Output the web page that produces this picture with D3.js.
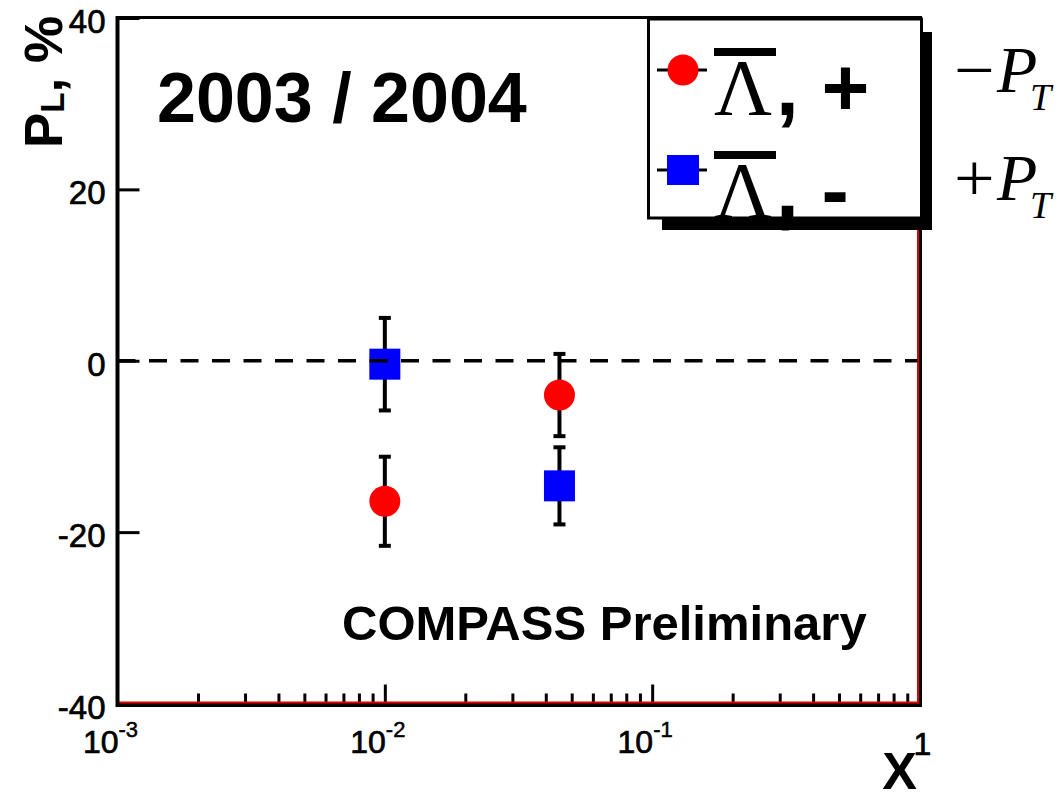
<!DOCTYPE html>
<html>
<head>
<meta charset="utf-8">
<script src="https://cdn.jsdelivr.net/npm/d3@7"></script>
<style>
  html, body { margin: 0; padding: 0; background: #fff; }
  svg { display: block; }
</style>
</head>
<body>
<svg id="chart" width="1059" height="794" font-family="'Liberation Sans', Arial, sans-serif"></svg>
<script>
// ---- data ----
const xValues = [0.01, 0.045];
const seriesNames = ["Λ, +", "Λ, -"];
const redValues = [-16.4, -4.0];
const redErrors = [5.2, 4.8];
const blueValues = [-0.4, -14.6];
const blueErrors = [5.4, 4.5];
const yTicks = [-40, -20, 0, 20, 40];
const xMajorTicks = [0.001, 0.01, 0.1, 1];
const xTickExponents = ["-3", "-2", "-1", ""];
const ptLabels = ["\u2212", "+"];

const SANS = "'Liberation Sans', Arial, sans-serif";
const SERIF = "'Liberation Serif', 'Times New Roman', serif";

const svg = d3.select("#chart");
const L = 117.5, R = 919.5, T = 18, B = 703.5;

const x = d3.scaleLog().domain([1e-3, 1]).range([L, R]);
const y = d3.scaleLinear().domain([-40, 40]).range([B, T]);

// ---- x axis minor & major ticks (pointing up) ----
const allTicks = x.ticks();
const minorTicks = allTicks.filter(v => !xMajorTicks.some(m => Math.abs(m - v) / m < 1e-6));
const gMinor = svg.append("g").attr("transform", `translate(0,${B})`)
  .call(d3.axisBottom(x).tickValues(minorTicks).tickSize(-10).tickFormat(""));
const gMajor = svg.append("g").attr("transform", `translate(0,${B})`)
  .call(d3.axisBottom(x).tickValues(xMajorTicks.slice(1, 3)).tickSize(-19).tickFormat(""));
[gMinor, gMajor].forEach(g => {
  g.select(".domain").remove();
  g.selectAll(".tick line").attr("stroke", "#000").attr("stroke-width", 3);
});

// x tick labels
const lblStroke = 0.7;
xMajorTicks.forEach((v, i) => {
  const px = x(v);
  if (xTickExponents[i] !== "") {
    svg.append("text").attr("x", px + 1).attr("y", 753).attr("text-anchor", "end")
      .attr("font-size", 32).attr("fill", "#000").attr("stroke", "#000").attr("stroke-width", lblStroke).text("10");
    svg.append("text").attr("x", px + 1).attr("y", 737).attr("text-anchor", "start")
      .attr("font-size", 22).attr("fill", "#000").attr("stroke", "#000").attr("stroke-width", 0.5).text(xTickExponents[i]);
  } else {
    svg.append("text").attr("x", px + 3).attr("y", 755).attr("text-anchor", "middle")
      .attr("font-size", 32).attr("fill", "#000").attr("stroke", "#000").attr("stroke-width", lblStroke).text("1");
  }
});

// ---- y axis ----
const gy = svg.append("g").attr("transform", `translate(${L},0)`)
  .call(d3.axisLeft(y).tickValues(yTicks).tickSize(-22).tickPadding(12).tickFormat(d => String(d)));
gy.select(".domain").remove();
gy.selectAll(".tick line").attr("stroke", "#000").attr("stroke-width", 3);
gy.selectAll(".tick text").attr("font-size", 33).attr("fill", "#000")
  .attr("stroke", "#000").attr("stroke-width", lblStroke)
  .attr("font-family", SANS).attr("dy", "0.44em");

// ---- frame ----
svg.append("line").attr("x1", L).attr("x2", R).attr("y1", T - 0.5).attr("y2", T - 0.5)
  .attr("stroke", "#000").attr("stroke-width", 3);
svg.append("line").attr("x1", L - 1.5).attr("x2", R + 2).attr("y1", B + 1.5).attr("y2", B + 1.5)
  .attr("stroke", "#000").attr("stroke-width", 4);
svg.append("line").attr("x1", L).attr("x2", R).attr("y1", B - 1).attr("y2", B - 1)
  .attr("stroke", "#e00000").attr("stroke-width", 2);
svg.append("line").attr("x1", L).attr("x2", L).attr("y1", T - 2).attr("y2", B + 3.5)
  .attr("stroke", "#000").attr("stroke-width", 4);
svg.append("line").attr("x1", R + 1).attr("x2", R + 1).attr("y1", T - 2).attr("y2", B + 3.5)
  .attr("stroke", "#000").attr("stroke-width", 3);
svg.append("line").attr("x1", R - 1.5).attr("x2", R - 1.5).attr("y1", T).attr("y2", B)
  .attr("stroke", "#e00000").attr("stroke-width", 2);

// ---- error bars ----
function errorBars(vals, errs) {
  const g = svg.append("g");
  vals.forEach((v, i) => {
    const px = x(xValues[i]);
    g.append("line").attr("x1", px).attr("x2", px).attr("y1", y(v + errs[i])).attr("y2", y(v - errs[i]))
      .attr("stroke", "#000").attr("stroke-width", 4);
    [v + errs[i], v - errs[i]].forEach(e => {
      g.append("line").attr("x1", px - 6).attr("x2", px + 6).attr("y1", y(e)).attr("y2", y(e))
        .attr("stroke", "#000").attr("stroke-width", 4);
    });
  });
}
errorBars(redValues, redErrors);
errorBars(blueValues, blueErrors);

// ---- markers ----
svg.append("g").selectAll("circle").data(redValues).join("circle")
  .attr("cx", (d, i) => x(xValues[i])).attr("cy", d => y(d)).attr("r", 15.5).attr("fill", "#ff0000");
svg.append("g").selectAll("rect").data(blueValues).join("rect")
  .attr("x", (d, i) => x(xValues[i]) - 15.5).attr("y", d => y(d) - 15.5)
  .attr("width", 31).attr("height", 31).attr("fill", "#0000ff");

// ---- zero dashed line ----
svg.append("line").attr("x1", L).attr("x2", R - 2).attr("y1", y(0)).attr("y2", y(0))
  .attr("stroke", "#000").attr("stroke-width", 3.5).attr("stroke-dasharray", "18,13.5");

// ---- texts ----
svg.append("text").attr("x", 157).attr("y", 122).attr("font-size", 70).attr("font-weight", "bold")
  .attr("fill", "#000").text("2003 / 2004");
svg.append("text").attr("x", 342).attr("y", 640).attr("font-size", 49).attr("font-weight", "bold")
  .attr("fill", "#000").text("COMPASS Preliminary");

// y title
const yt = svg.append("text").attr("transform", "translate(62,148) rotate(-90)")
  .attr("font-weight", "bold").attr("fill", "#000");
yt.append("tspan").attr("font-size", 53).text("P");
yt.append("tspan").attr("font-size", 33).attr("dy", 2).text("L");
yt.append("tspan").attr("font-size", 53).attr("dy", -2).text(", %");

// x title
svg.append("text").attr("x", 917).attr("y", 789).attr("text-anchor", "end")
  .attr("font-size", 52).attr("font-weight", "bold").attr("fill", "#000").text("X");

// ---- legend ----
const lg = svg.append("g");
lg.append("rect").attr("x", 923).attr("y", 32).attr("width", 9).attr("height", 198).attr("fill", "#000");
lg.append("rect").attr("x", 662).attr("y", 219).attr("width", 270).attr("height", 11).attr("fill", "#000");
lg.append("rect").attr("x", 648.5).attr("y", 19).attr("width", 273).attr("height", 199)
  .attr("fill", "#fff").attr("stroke", "#000").attr("stroke-width", 3);

const rowY = [70, 170];
const baseY = [115, 218];
const markerColors = ["#ff0000", "#0000ff"];
const signs = [",\u00a0+", ",\u00a0-"];
rowY.forEach((ry, i) => {
  lg.append("line").attr("x1", 657).attr("x2", 707).attr("y1", ry).attr("y2", ry)
    .attr("stroke", "#000").attr("stroke-width", 3);
  if (i === 0) {
    lg.append("circle").attr("cx", 683).attr("cy", ry).attr("r", 15.5).attr("fill", markerColors[i]);
  } else {
    lg.append("rect").attr("x", 667).attr("y", ry - 15).attr("width", 32).attr("height", 30).attr("fill", markerColors[i]);
  }
  // overline
  lg.append("rect").attr("x", 714).attr("y", baseY[i] - 67).attr("width", 62).attr("height", 8).attr("fill", "#000");
  lg.append("text").attr("x", 714).attr("y", baseY[i]).attr("fill", "#000")
    .attr("font-family", SERIF).attr("font-size", 80).text(seriesNames[i].charAt(0));
  lg.append("text").attr("x", 776).attr("y", baseY[i]).attr("fill", "#000")
    .attr("font-family", SANS).attr("font-size", 82).attr("font-weight", "bold").text(signs[i]);
});

// ---- right-hand labels ----
const ptBase = [92, 200];
ptLabels.forEach((s, i) => {
  svg.append("text").attr("x", 954).attr("y", ptBase[i] + 1).attr("fill", "#000")
    .attr("font-family", SERIF).attr("font-size", 68)
    .attr("transform", `translate(954,0) scale(1.06,1) translate(-954,0)`).text(s);
  svg.append("text").attr("x", 997).attr("y", ptBase[i]).attr("fill", "#000")
    .attr("font-family", SERIF).attr("font-size", 66).attr("font-style", "italic").text("P");
  svg.append("text").attr("x", 1030).attr("y", ptBase[i] + 18).attr("fill", "#000")
    .attr("font-family", SERIF).attr("font-size", 38).attr("font-style", "italic").text("T");
});
</script>
</body>
</html>
